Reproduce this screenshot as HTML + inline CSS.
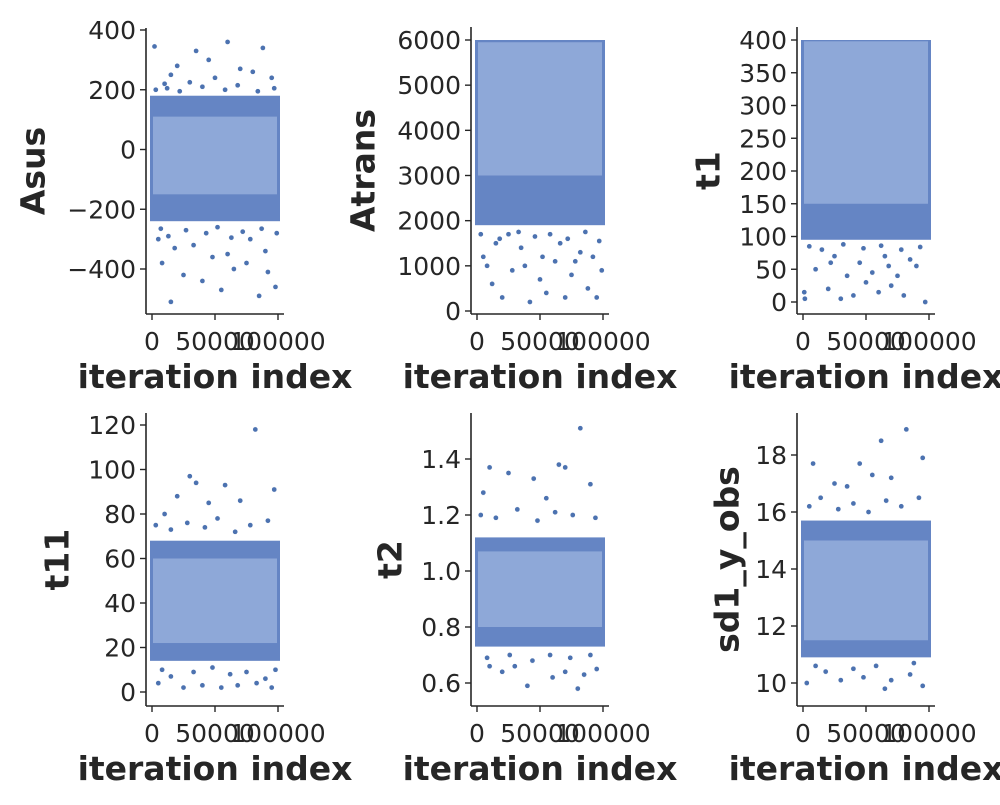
<!DOCTYPE html>
<html><head><meta charset="utf-8">
<style>
body{margin:0;background:#fff;}
svg text{font-family:"DejaVu Sans","Liberation Sans",sans-serif;fill:#262626;}
</style></head>
<body>
<svg id="chart" width="1000" height="800" viewBox="0 0 1000 800" xmlns="http://www.w3.org/2000/svg"></svg>
<script>
// ---- data ----
const panelNames = ["Asus","Atrans","t1","t11","t2","sd1_y_obs"];
const xTickValues = [0, 50000, 100000];
const xTickLabels = ["0","50000","100000"];
const yTicksAsus = [-400,-200,0,200,400];
const yTicksAtrans = [0,1000,2000,3000,4000,5000,6000];
const yTicksT1 = [0,50,100,150,200,250,300,350,400];
const yTicksT11 = [0,20,40,60,80,100,120];
const yTicksT2 = [0.6,0.8,1.0,1.2,1.4];
const yTicksSd = [10,12,14,16,18];
const yTickLabelsT2 = ["0.6","0.8","1.0","1.2","1.4"];
const yTickLabelsAsus = ["\u2212400","\u2212200","0","200","400"];
// dense band extents (outer / core) per panel
const bandLow  = [-240, 1900, 95, 14, 0.73, 10.9];
const bandHigh = [180, 6000, 400, 68, 1.12, 15.7];
const coreLow  = [-150, 3000, 150, 22, 0.80, 11.5];
const coreHigh = [110, 5950, 398, 60, 1.07, 15.0];
// sparse outlying points [iteration, value]
const ptsAsus = [[2000,345],[60000,360],[88000,340],[35000,330],[20000,280],[45000,300],[70000,270],[15000,250],[80000,260],[95000,240],[10000,220],[50000,240],[30000,225],[15000,-510],[85000,-490],[8000,-380],[25000,-420],[40000,-440],[55000,-470],[65000,-400],[75000,-380],[92000,-410],[98000,-460],[5000,-300],[33000,-320],[60000,-350],[78000,-300],[18000,-330],[48000,-360],[90000,-340],[3000,200],[12000,205],[22000,195],[40000,210],[58000,200],[68000,215],[84000,195],[97000,205],[7000,-265],[27000,-270],[43000,-280],[52000,-260],[72000,-275],[87000,-265],[99000,-280],[13000,-290],[63000,-295]];
const ptsAtrans = [[5000,1200],[12000,600],[20000,300],[28000,900],[35000,1400],[42000,200],[50000,700],[55000,400],[62000,1100],[70000,300],[75000,800],[82000,1300],[88000,500],[95000,300],[99000,900],[15000,1500],[38000,1000],[66000,1500],[92000,1200],[25000,1700],[3000,1700],[18000,1600],[33000,1750],[46000,1650],[58000,1700],[72000,1600],[86000,1750],[97000,1550],[8000,1000],[52000,1200],[78000,1100]];
const ptsT1 = [[1000,15],[1500,5],[20000,20],[30000,5],[40000,10],[50000,30],[60000,15],[70000,25],[80000,10],[97000,0],[10000,50],[35000,40],[55000,45],[75000,40],[90000,55],[25000,70],[45000,60],[65000,70],[85000,65],[5000,85],[15000,80],[32000,88],[48000,82],[62000,86],[78000,80],[93000,84],[22000,60],[68000,55]];
const ptsT11 = [[82000,118],[30000,97],[35000,94],[58000,93],[97000,91],[20000,88],[45000,85],[70000,86],[10000,80],[5000,4],[25000,2],[40000,3],[55000,2],[68000,3],[83000,4],[95000,2],[15000,7],[62000,8],[90000,6],[3000,75],[15000,73],[28000,76],[42000,74],[52000,78],[66000,72],[78000,75],[92000,77],[8000,10],[33000,9],[48000,11],[75000,9],[98000,10]];
const ptsT2 = [[82000,1.51],[65000,1.38],[70000,1.37],[10000,1.37],[25000,1.35],[45000,1.33],[90000,1.31],[5000,1.28],[55000,1.26],[80000,0.58],[40000,0.59],[60000,0.62],[20000,0.64],[85000,0.63],[10000,0.66],[95000,0.65],[30000,0.66],[70000,0.64],[3000,1.2],[15000,1.19],[32000,1.22],[48000,1.18],[62000,1.21],[76000,1.2],[94000,1.19],[8000,0.69],[26000,0.7],[44000,0.68],[58000,0.7],[74000,0.69],[90000,0.7]];
const ptsSd = [[82000,18.9],[62000,18.5],[95000,17.9],[45000,17.7],[8000,17.7],[55000,17.3],[25000,17.0],[70000,17.2],[35000,16.9],[3000,10.0],[65000,9.8],[30000,10.1],[48000,10.2],[85000,10.3],[18000,10.4],[95000,9.9],[70000,10.1],[40000,10.5],[5000,16.2],[14000,16.5],[28000,16.1],[40000,16.3],[52000,16.0],[66000,16.4],[78000,16.2],[92000,16.5],[10000,10.6],[58000,10.6],[88000,10.7]];
const allTicks = [yTicksAsus,yTicksAtrans,yTicksT1,yTicksT11,yTicksT2,yTicksSd];
const allPts = [ptsAsus,ptsAtrans,ptsT1,ptsT11,ptsT2,ptsSd];

// ---- layout (pixels) ----
const layout = [
 {left:146, top:28,  bottom:314, v1:400,  p1:30,  v2:-400, p2:269, lx:33},
 {left:471, top:27,  bottom:314, v1:6000, p1:40,  v2:0,    p2:311, lx:363},
 {left:797, top:27,  bottom:314, v1:400,  p1:40,  v2:0,    p2:302, lx:708},
 {left:146, top:413, bottom:706, v1:120,  p1:425, v2:0,    p2:692, lx:57},
 {left:471, top:413, bottom:706, v1:1.4,  p1:459, v2:0.6,  p2:683, lx:390},
 {left:797, top:413, bottom:706, v1:18,   p1:455, v2:10,   p2:683, lx:727}
];
const svg = document.getElementById('chart');
const NS = "http://www.w3.org/2000/svg";
function mk(tag, attrs, parent){const e=document.createElementNS(NS,tag);for(const k in attrs)e.setAttribute(k,attrs[k]);(parent||svg).appendChild(e);return e;}

layout.forEach((L,i)=>{
  const g = mk('g',{});
  
  
  const xs = v => L.left + 6 + v/100000*126;
  const ys = v => L.p1 + (v - L.v1)/(L.v2 - L.v1)*(L.p2 - L.p1);
  const b = mk('rect',{x:xs(0)-2,y:ys(bandHigh[i]),width:xs(100000)-xs(0)+4,height:ys(bandLow[i])-ys(bandHigh[i]),fill:'#6585c4'},g);
  
  
  const c = mk('rect',{x:xs(0)+1,y:ys(coreHigh[i]),width:xs(100000)-xs(0)-2,height:ys(coreLow[i])-ys(coreHigh[i]),fill:'#8ea8d8'},g);
  
  
  allPts[i].forEach(p=>{
    const d = mk('circle',{cx:xs(p[0]),cy:ys(p[1]),r:2.6,fill:'#4c72b0',stroke:'#fff','stroke-width':0.5},g);
    
    
  });
  const sl = mk('line',{x1:L.left,y1:L.top,x2:L.left,y2:L.bottom,stroke:'#262626','stroke-width':1.6},g);
  
  
  const sb = mk('line',{x1:L.left,y1:L.bottom,x2:L.left+138,y2:L.bottom,stroke:'#262626','stroke-width':1.6},g);
  
  
  xTickValues.forEach((v,k)=>{
    mk('line',{x1:xs(v),y1:L.bottom,x2:xs(v),y2:L.bottom+6,stroke:'#262626','stroke-width':1.4},g);
    const t = mk('text',{x:xs(v),y:L.bottom+36,'font-size':25,'text-anchor':'middle'},g);
    t.textContent = xTickLabels[k];
    
    
  });
  allTicks[i].forEach((v,k)=>{
    mk('line',{x1:L.left-6,y1:ys(v),x2:L.left,y2:ys(v),stroke:'#262626','stroke-width':1.4},g);
    const t = mk('text',{x:L.left-10,y:ys(v)+9,'font-size':25,'text-anchor':'end'},g);
    t.textContent = i===0 ? yTickLabelsAsus[k] : (i===4 ? yTickLabelsT2[k] : String(v));
    
    
  });
  const xl = mk('text',{x:L.left+69,y:L.bottom+74,'font-size':33,'font-weight':'bold','text-anchor':'middle'},g);
  xl.textContent = 'iteration index';
  
  
  const cy = (L.top+L.bottom)/2;
  const yl = mk('text',{x:L.lx,y:cy,'font-size':33,'font-weight':'bold','text-anchor':'middle',transform:'rotate(-90 '+L.lx+' '+cy+')','dominant-baseline':'central'},g);
  yl.textContent = panelNames[i];
  
  
});
</script>
</body></html>
